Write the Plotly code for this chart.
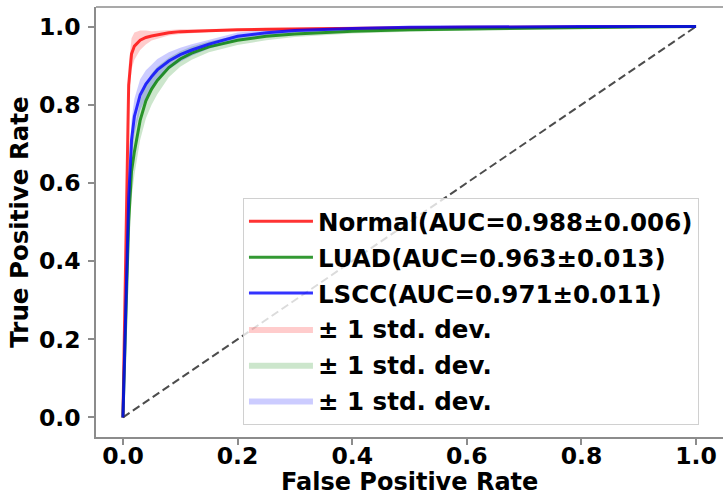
import plotly.graph_objects as go

# ---- data ----
fpr = [0, 0.005, 0.01, 0.015, 0.02, 0.03, 0.04, 0.05, 0.06, 0.08, 0.1, 0.12,
       0.15, 0.2, 0.25, 0.3, 0.4, 0.5, 0.6, 0.7, 0.8, 0.9, 1.0]

normal_tpr = [0, 0.45, 0.85, 0.93, 0.95, 0.965, 0.972, 0.976, 0.979, 0.984, 0.987, 0.988,
              0.990, 0.992, 0.993, 0.994, 0.996, 0.997, 0.998, 0.999, 0.999, 1.0, 1.0]
normal_std = [0, 0.05, 0.05, 0.04, 0.035, 0.025, 0.018, 0.012, 0.010, 0.007, 0.006, 0.005,
              0.004, 0.004, 0.003, 0.003, 0.002, 0.002, 0.001, 0.001, 0.001, 0, 0]

luad_tpr = [0, 0.25, 0.50, 0.63, 0.68, 0.76, 0.81, 0.84, 0.862, 0.895, 0.917, 0.932,
            0.948, 0.965, 0.975, 0.981, 0.988, 0.992, 0.994, 0.996, 0.997, 0.999, 1.0]
luad_std = [0, 0.08, 0.10, 0.07, 0.06, 0.05, 0.045, 0.04, 0.035, 0.025, 0.02, 0.017,
            0.014, 0.012, 0.010, 0.008, 0.006, 0.005, 0.004, 0.003, 0.002, 0.001, 0]

lscc_tpr = [0, 0.30, 0.56, 0.71, 0.77, 0.825, 0.853, 0.872, 0.889, 0.912, 0.928, 0.94,
            0.955, 0.975, 0.984, 0.990, 0.995, 0.998, 0.999, 0.999, 1.0, 1.0, 1.0]
lscc_std = [0, 0.04, 0.06, 0.05, 0.045, 0.04, 0.035, 0.03, 0.028, 0.022, 0.018, 0.015,
            0.012, 0.010, 0.008, 0.006, 0.004, 0.003, 0.002, 0.001, 0.001, 0, 0]

names = ["Normal(AUC=0.988\u00b10.006)", "LUAD(AUC=0.963\u00b10.013)", "LSCC(AUC=0.971\u00b10.011)"]
band_label = "\u00b1 1 std. dev."
chance = [0, 1]
tick_vals = [0, 0.2, 0.4, 0.6, 0.8, 1.0]

series = [
    (names[0], normal_tpr, normal_std, "rgba(255,0,0,0.8)", "rgba(255,0,0,0.2)"),
    (names[1], luad_tpr, luad_std, "rgba(0,128,0,0.8)", "rgba(0,128,0,0.2)"),
    (names[2], lscc_tpr, lscc_std, "rgba(0,0,255,0.8)", "rgba(0,0,255,0.2)"),
]

fig = go.Figure()

# chance diagonal
fig.add_trace(go.Scatter(x=chance, y=chance, mode="lines", showlegend=False,
                         line=dict(color="rgba(0,0,0,0.7)", width=2, dash="8px,4px"),
                         hoverinfo="skip"))

# std bands (drawn first, legend entries after the lines)
for i, (nm, tpr, std, lc, fc) in enumerate(series):
    upper = [min(t + s, 1.0) for t, s in zip(tpr, std)]
    lower = [max(t - s, 0.0) for t, s in zip(tpr, std)]
    fig.add_trace(go.Scatter(
        x=fpr + fpr[::-1], y=upper + lower[::-1], fill="toself", fillcolor=fc,
        mode="lines", line=dict(width=0, color=fc), name=band_label,
        legendrank=10 + i, legendgroup="b%d" % i))

for i, (nm, tpr, std, lc, fc) in enumerate(series):
    fig.add_trace(go.Scatter(
        x=fpr, y=tpr, mode="lines", line=dict(color=lc, width=3), name=nm,
        legendrank=i, legendgroup="l%d" % i))

bold = dict(family="DejaVu Sans", weight="bold", color="black")
spine = "#8c8c8c"

axis_common = dict(
    showgrid=False, zeroline=False, showline=True, linecolor=spine, linewidth=1.5,
    ticks="outside", ticklen=6, tickcolor=spine, tickwidth=1.5,
    tickfont=dict(size=23.5, **bold), tickformat=".1f", tickvals=tick_vals,
)

fig.update_layout(
    template="none",
    width=723, height=495,
    margin=dict(l=96, r=0, t=7, b=58, pad=0),
    paper_bgcolor="white", plot_bgcolor="white",
    xaxis=dict(range=[-0.047, 1.047], mirror=False, ticklabelstandoff=-9, **axis_common),
    yaxis=dict(range=[-0.05, 1.05], mirror=False, ticklabelstandoff=3,
               title=dict(text="True Positive Rate", font=dict(size=24.5, **bold), standoff=3),
               **axis_common),
    shapes=[dict(type="line", xref="paper", yref="paper", x0=0, x1=1, y0=1, y1=1,
                 line=dict(color=spine, width=1.5), layer="above")],
    annotations=[dict(text="False Positive Rate", xref="paper", yref="paper",
                      x=0.5, y=-0.1035, xanchor="center", yanchor="middle",
                      showarrow=False, font=dict(size=24, **bold))],
    legend=dict(x=0.2344, y=0.556, xanchor="left", yanchor="top",
                bgcolor="rgba(255,255,255,0.8)", bordercolor="#d0d0d0", borderwidth=1,
                font=dict(size=24.5, **bold), tracegroupgap=1, itemwidth=64,
                traceorder="grouped"),
)

fig.write_html("out.html", config={"displayModeBar": False},
               post_script="document.body.style.margin='0';document.body.style.overflow='hidden';")
